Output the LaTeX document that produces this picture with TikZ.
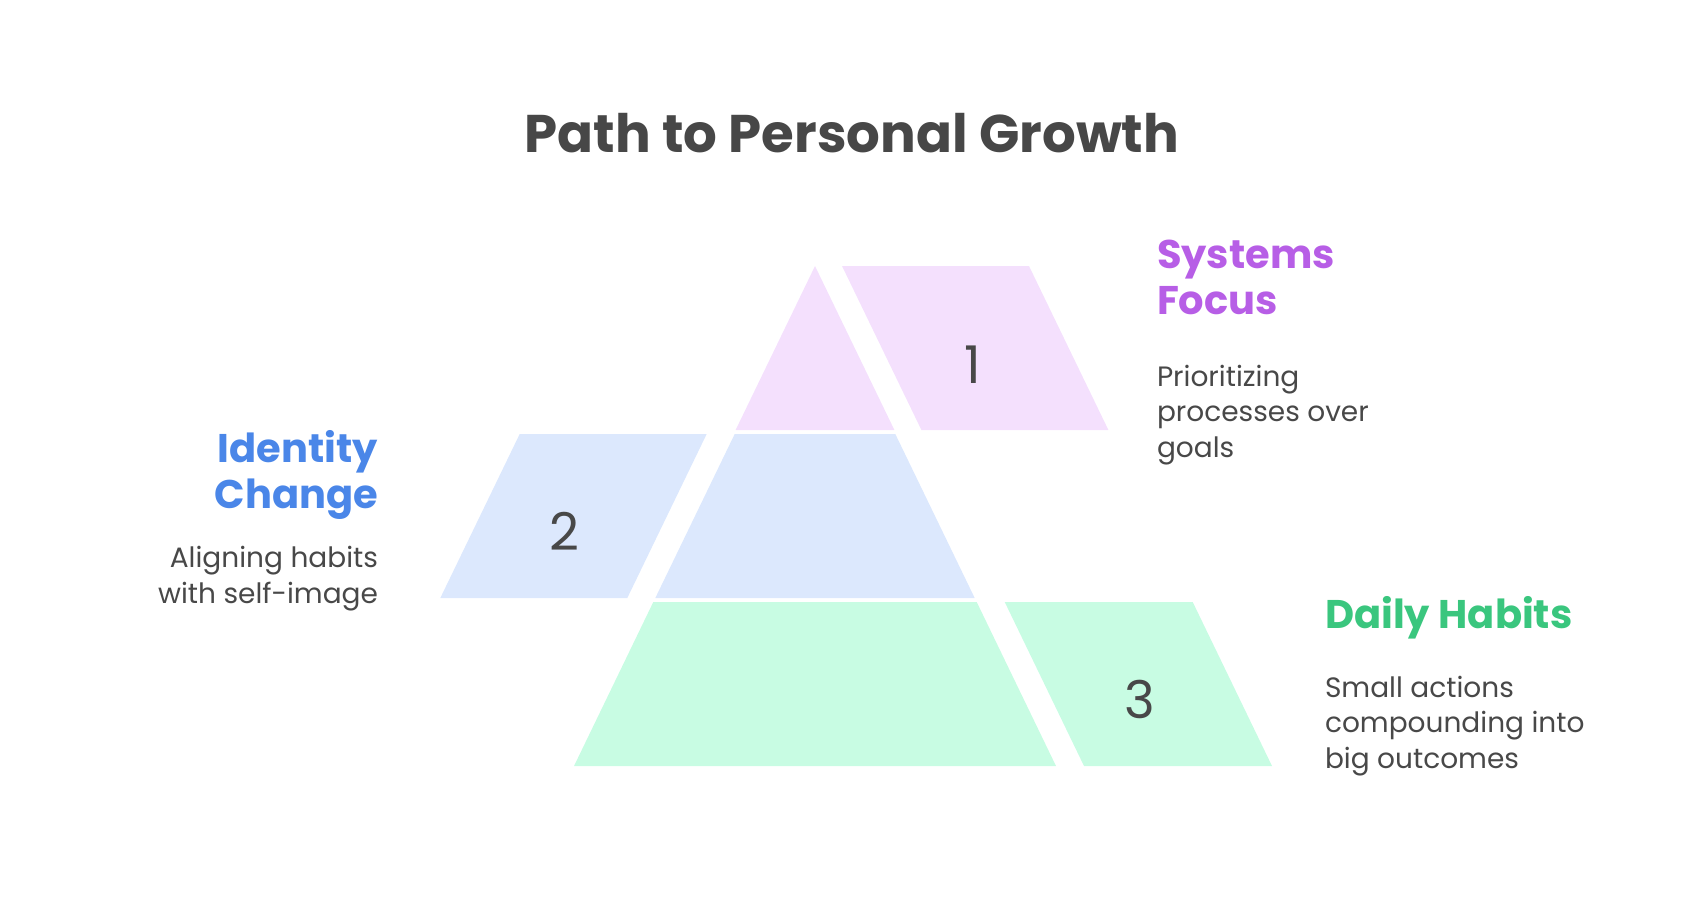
\documentclass[tikz,border=0pt]{standalone}
\usepackage{fontspec}
\setmainfont{Poppins}
\usepackage{tikz}
\definecolor{titlegray}{HTML}{474747}
\definecolor{textgray}{HTML}{484848}
\definecolor{pinkfill}{HTML}{F4E0FD}
\definecolor{bluefill}{HTML}{DCE8FD}
\definecolor{greenfill}{HTML}{C8FCE3}
\definecolor{purpletext}{HTML}{B75EE6}
\definecolor{bluetext}{HTML}{4A86E8}
\definecolor{greentext}{HTML}{3AC67E}
\tikzset{heading/.style={font=\bfseries\fontsize{40}{46}\selectfont, inner sep=0pt, outer sep=0pt},
         desc/.style={text=textgray, font=\fontsize{28}{35.5}\selectfont, inner sep=0pt, outer sep=0pt},
         num/.style={text=textgray, font=\fontsize{52}{52}\selectfont, inner sep=0pt, anchor=base}}

\begin{document}
\begin{tikzpicture}[x=1pt,y=-1pt]
        \useasboundingbox (0,0) rectangle (1704,912);
        
        % Title
        \node[anchor=base, text=titlegray, font=\bfseries\fontsize{53}{53}\selectfont] (title) at (852,153) {Path to Personal Growth};
        
        % Pyramid
        \fill[pinkfill] (815,266) -- (894.4,430) -- (735.6,430) -- cycle;
        \fill[bluefill] (734.7,434) -- (895.3,434) -- (974.7,598) -- (655.3,598) -- cycle;
        \fill[greenfill] (653.3,602) -- (976.7,602) -- (1056,766) -- (574,766) -- cycle;
        
        % Side pieces
        \fill[pinkfill] (842,266) -- (1029,266) -- (1108.4,430) -- (921.4,430) -- cycle;
        \fill[bluefill] (519.7,434) -- (706.7,434) -- (627.3,598) -- (440.3,598) -- cycle;
        \fill[greenfill] (1004.7,602) -- (1192.7,602) -- (1272,766) -- (1084,766) -- cycle;
        
        \node[num] (one) at (973,383) {1};
        \node[num] (two) at (564,550) {2};
        \node[num] (three) at (1140,718) {3};
        
        % Labels (base = last line)
        \node[heading, text=purpletext, anchor=base west, align=left] (systems) at (1157,314) {Systems\\Focus};
        \node[desc, anchor=base west, align=left] (systemsdesc) at (1157,457) {Prioritizing\\processes over\\goals};
        
        \node[heading, text=bluetext, anchor=base east, align=right] (identity) at (378,508) {Identity\\Change};
        \node[desc, anchor=base east, align=right] (identitydesc) at (378,603) {Aligning habits\\with self-image};
        
        \node[heading, text=greentext, anchor=base west] (daily) at (1325,628) {Daily Habits};
        \node[desc, anchor=base west, align=left] (dailydesc) at (1325,768) {Small actions\\compounding into\\big outcomes};
        
\end{tikzpicture}
\end{document}
